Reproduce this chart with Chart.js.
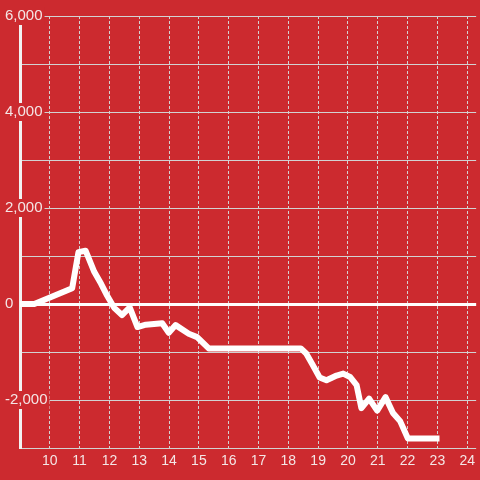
<!DOCTYPE html>
<html>
<head>
<meta charset="utf-8">
<script src="https://cdn.jsdelivr.net/npm/chart.js@4"></script>
<style>
html,body{margin:0;padding:0;background:#cc2a2f;}
#c{display:block;}
</style>
</head>
<body>
<canvas id="c" width="480" height="480"></canvas>
<script>
// Data
const hours = [9.0, 9.48, 10.75, 10.96, 11.2, 11.49, 11.72, 11.9, 12.16, 12.42, 12.68, 12.94, 13.22, 13.77, 13.99, 14.22, 14.66, 14.94, 15.33, 18.42, 18.6, 18.8, 19.05, 19.28, 19.62, 19.84, 20.07, 20.29, 20.45, 20.71, 20.98, 21.26, 21.51, 21.75, 22.01, 23.07];
const values = [0, 0, 330, 1080, 1110, 670, 420, 200, -80, -230, -70, -480, -430, -400, -600, -440, -620, -690, -925, -925, -1030, -1250, -1530, -1590, -1490, -1450, -1520, -1690, -2170, -1970, -2220, -1940, -2270, -2440, -2800, -2800];
const xMin = 9, xMax = 24.3, xStep = 1;
const yMin = -3000, yMax = 6000, yStep = 1000, yLabelEvery = 2000;

const RED = '#cc2a2f';
const GRID = '#d2d2d2';
const TEXT = '#f4e6e6';

const points = hours.map((h, i) => ({x: h, y: values[i]}));

new Chart(document.getElementById('c'), {
  type: 'line',
  data: {
    datasets: [{
      data: points,
      borderColor: '#ffffff',
      borderWidth: 6,
      pointRadius: 0,
      tension: 0,
      borderJoinStyle: 'round',
      borderCapStyle: 'butt',
      fill: false
    }]
  },
  options: {
    responsive: false,
    animation: false,
    layout: {padding: {top: 16, left: 5, right: 0, bottom: 0}},
    plugins: {legend: {display: false}, tooltip: {enabled: false}},
    scales: {
      x: {
        type: 'linear',
        min: xMin,
        max: xMax,
        afterFit: s => { s.height = 32; },
        border: {display: false, dash: [3, 2]},
        grid: {
          drawTicks: false,
          color: ctx => (ctx.tick && ctx.tick.value === xMin) ? 'rgba(0,0,0,0)' : GRID,
          lineWidth: 1
        },
        ticks: {
          stepSize: xStep,
          includeBounds: false,
          autoSkip: false,
          maxRotation: 0,
          padding: 5,
          color: TEXT,
          font: {family: '"Liberation Sans", Arial, sans-serif', size: 14},
          callback: v => (v === xMin || !Number.isInteger(v)) ? '' : String(v)
        }
      },
      y: {
        type: 'linear',
        min: yMin,
        max: yMax,
        afterFit: s => { s.width = 15; },
        border: {display: true, color: '#f2f2f2', width: 3},
        grid: {
          drawTicks: false,
          color: ctx => (ctx.tick && ctx.tick.value === 0) ? '#ffffff' : GRID,
          lineWidth: ctx => (ctx.tick && ctx.tick.value === 0) ? 3 : 1
        },
        ticks: {
          stepSize: yStep,
          mirror: true,
          crossAlign: 'near',
          padding: -15,
          color: TEXT,
          font: {family: '"Liberation Sans", Arial, sans-serif', size: 15},
          showLabelBackdrop: true,
          backdropColor: RED,
          backdropPadding: {left: 3, right: 2, top: 0, bottom: 0},
          callback: v => (v % yLabelEvery === 0) ? v.toLocaleString('en-US') : ''
        }
      }
    }
  }
});
</script>
</body>
</html>
